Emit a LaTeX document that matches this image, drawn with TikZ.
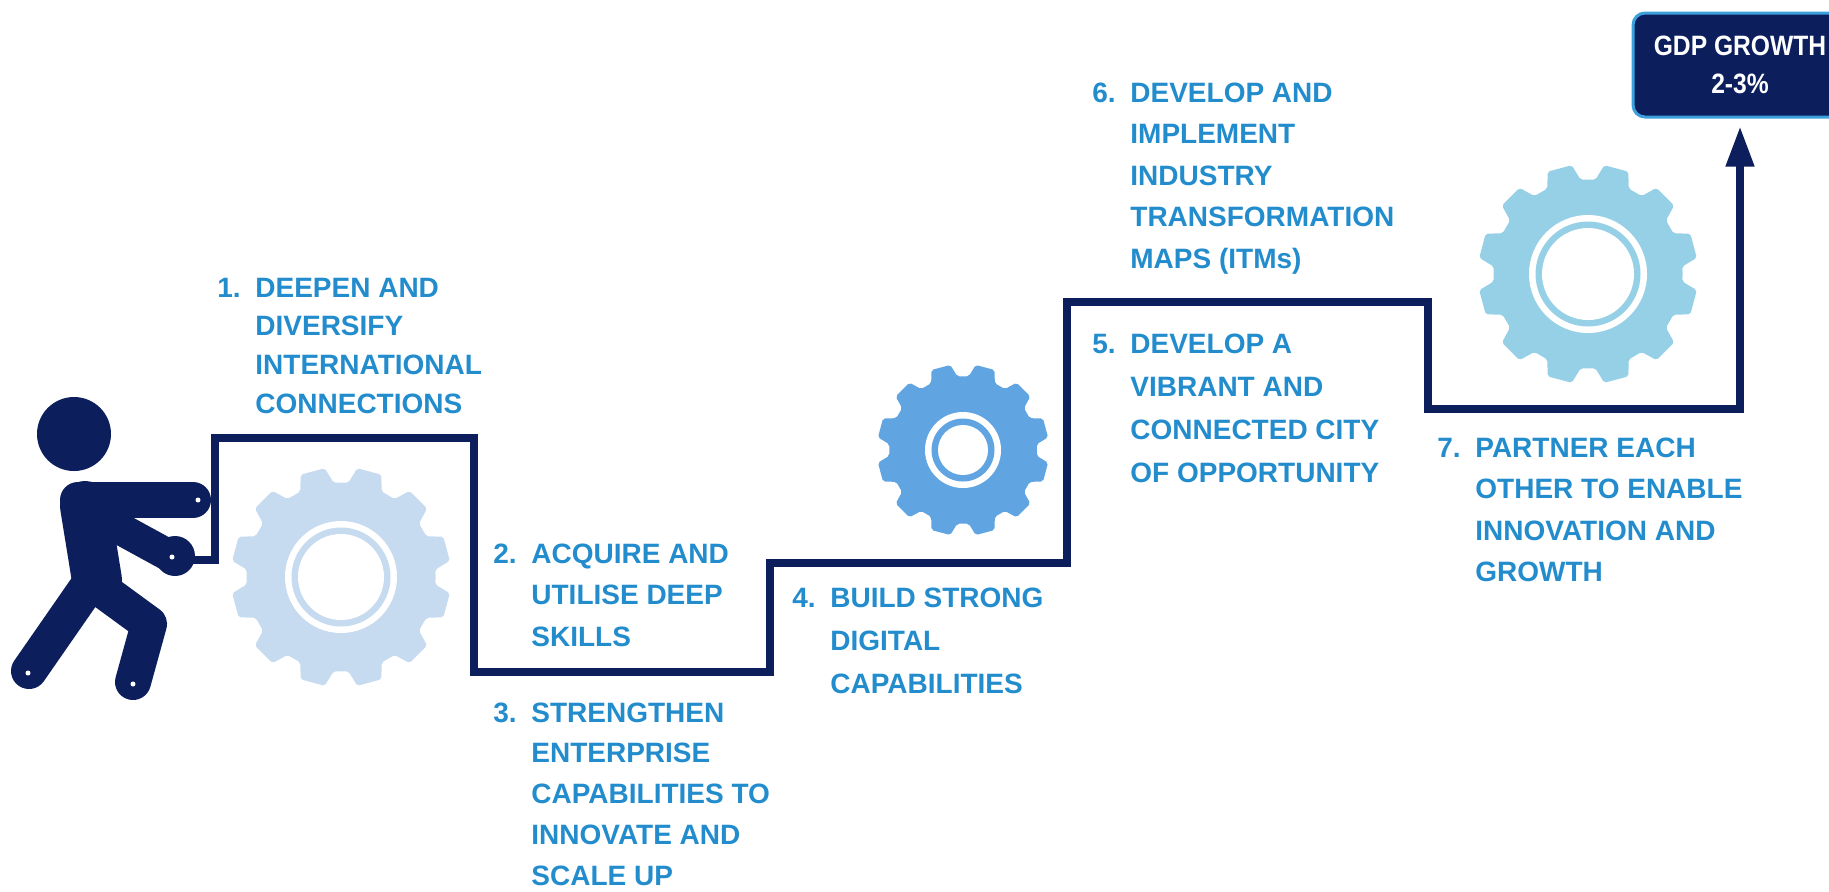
\documentclass[tikz,border=0pt]{standalone}
\usepackage{fontspec}
\setmainfont{Liberation Sans}
\usetikzlibrary{arrows.meta}

\definecolor{navy}{HTML}{0C1E5C}
\definecolor{textblue}{HTML}{238CCD}
\definecolor{boxedge}{HTML}{3CA0DC}
\definecolor{gearpale}{HTML}{C6DAF0}
\definecolor{gearmid}{HTML}{60A5E2}
\definecolor{gearsky}{HTML}{96D0E6}

\newcommand\itemfont{\fontsize{14}{20.75}\selectfont\bfseries}
\newcommand\stepitem[2]{\parbox[t]{220pt}{\hangindent=19pt\hangafter=1\noindent\makebox[19pt][l]{#1}#2}}

\begin{document}
\begin{tikzpicture}[x=0.5pt, y=-0.5pt,
    stair/.style={draw=navy, line width=3.75pt},
    limb/.style={draw=navy, line cap=round, line join=round},
    steplabel/.style={anchor=base west, inner sep=0pt, text=textblue, font=\itemfont},
    goal/.style={fill=navy, draw=boxedge, line width=1.5pt, rounded corners=6pt,
        minimum width=107pt, minimum height=52pt, text=white, align=center,
        font=\fontsize{14}{19}\selectfont\bfseries},
    pics/gear/.style n args={3}{code={
        \fill[#1, rounded corners=1pt] (0:0.86*#2)
            \foreach \a in {15,45,...,345} {
                -- (\a-10.5:0.86*#2) -- (\a-6.5:#2) -- (\a+6.5:#2) -- (\a+10.5:0.86*#2)
            } -- cycle;
        \fill[white] (0,0) circle[radius=#3+13];
        \fill[#1] (0,0) circle[radius=#3+6.5];
        \fill[white] (0,0) circle[radius=#3];
    }}
]
    \clip (0,0) rectangle (1829,891);

    % Gears on the steps
    \pic at (341,577) {gear={gearpale}{110}{43}};
    \pic at (963,450) {gear={gearmid}{86}{25}};
    \pic at (1588,274) {gear={gearsky}{110}{46}};

    % Target
    \node[goal] (gdp) at (1740,65) {\scalebox{0.88}[1]{GDP GROWTH}\\\scalebox{0.88}[1]{2-3\%}};

    % Staircase up to the target
    \coordinate (grip) at (185,560);
    \draw[stair, -{Triangle[length=20pt, width=13.5pt]}, shorten >=4pt]
        (grip) -| (215,438) -| (474,672) -| (770,563) -| (1067,302) -| (1428,409) -| (gdp.south);

    % Person pushing
    \fill[navy] (74,434) circle[radius=37];
    \draw[limb, line width=25pt] (85,506) -- (97,580);
    \draw[limb, line width=18pt] (78,500) -- (193,500);
    \draw[limb, line width=16pt] (95,515) -- (170,556);
    \fill[navy] (175,556) circle[radius=20];
    \draw[limb, line width=18pt] (88,586) -- (29,671);
    \draw[limb, line width=18pt] (97,586) -- (149,624) -- (133,682);
    \foreach \p in {(198,500),(172,557),(28,673),(133,684)}
        \fill[white] \p circle[radius=2.5];

    % Step labels
    \node[steplabel, font=\fontsize{14}{19.4}\selectfont\bfseries] (deepen) at (217,297)
        {\stepitem{1.}{DEEPEN AND\\DIVERSIFY\\INTERNATIONAL\\CONNECTIONS}};
    \node[steplabel] (skills) at (493,563)
        {\stepitem{2.}{ACQUIRE AND\\UTILISE DEEP\\SKILLS}};
    \node[steplabel, font=\fontsize{14}{20.4}\selectfont\bfseries] (enterprise) at (493,722)
        {\stepitem{3.}{STRENGTHEN\\ENTERPRISE\\CAPABILITIES TO\\INNOVATE AND\\SCALE UP}};
    \node[steplabel, font=\fontsize{14}{21.5}\selectfont\bfseries] (digital) at (792,607)
        {\stepitem{4.}{BUILD STRONG\\DIGITAL\\CAPABILITIES}};
    \node[steplabel, font=\fontsize{14}{21.6}\selectfont\bfseries] (city) at (1092,353)
        {\stepitem{5.}{DEVELOP A\\VIBRANT AND\\CONNECTED CITY\\OF OPPORTUNITY}};
    \node[steplabel] (itm) at (1092,102)
        {\stepitem{6.}{DEVELOP AND\\IMPLEMENT\\INDUSTRY\\TRANSFORMATION\\MAPS (ITMs)}};
    \node[steplabel] (partner) at (1437,457)
        {\stepitem{7.}{PARTNER EACH\\OTHER TO ENABLE\\INNOVATION AND\\GROWTH}};
\end{tikzpicture}
\end{document}
